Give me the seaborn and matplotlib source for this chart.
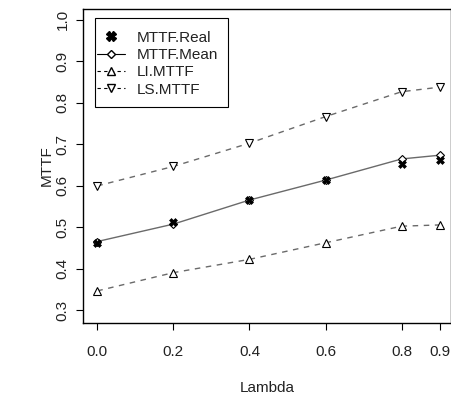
import matplotlib
matplotlib.use("Agg")
import matplotlib.pyplot as plt
import seaborn as sns
import pandas as pd
from matplotlib.lines import Line2D
from matplotlib.patches import Rectangle

lam = [0.0, 0.2, 0.4, 0.6, 0.8, 0.9]
mttf_real = [0.462, 0.513, 0.564, 0.613, 0.652, 0.661]
mttf_mean = [0.465, 0.507, 0.565, 0.613, 0.664, 0.673]
li_mttf = [0.346, 0.390, 0.422, 0.462, 0.502, 0.505]
ls_mttf = [0.599, 0.646, 0.702, 0.766, 0.826, 0.837]
x_ticks = [0.0, 0.2, 0.4, 0.6, 0.8, 0.9]
y_ticks = [0.3, 0.4, 0.5, 0.6, 0.7, 0.8, 0.9, 1.0]

df = pd.DataFrame({"Lambda": lam, "Real": mttf_real, "Mean": mttf_mean,
                   "LI": li_mttf, "LS": ls_mttf})

sns.set_style("ticks")
plt.rcParams['font.family'] = ['Liberation Sans', 'DejaVu Sans']

fig = plt.figure(figsize=(4.52, 3.96), dpi=100)
ax = fig.add_axes([83.3/452, (396-322.7)/396, (451.5-83.3)/452, (322.7-9.3)/396])

gray = "#6a6a6a"
fs = 11
sns.lineplot(data=df, x="Lambda", y="LS", ax=ax, color=gray, lw=1, linestyle=(0, (4, 4)), zorder=2)
sns.lineplot(data=df, x="Lambda", y="LI", ax=ax, color=gray, lw=1, linestyle=(0, (4, 4)), zorder=2)
sns.lineplot(data=df, x="Lambda", y="Mean", ax=ax, color=gray, lw=1, zorder=2)
ax.plot(df["Lambda"], df["LS"], ls="none", marker="v", ms=6, mfc="white", mec="black", mew=0.8, zorder=3)
ax.plot(df["Lambda"], df["LI"], ls="none", marker="^", ms=6, mfc="white", mec="black", mew=0.8, zorder=3)
ax.plot(df["Lambda"], df["Mean"], ls="none", marker="D", ms=4.5, mfc="white", mec="black", mew=0.8, zorder=3)
sns.scatterplot(data=df, x="Lambda", y="Real", ax=ax, marker="X", s=32, color="black",
                edgecolor="black", linewidth=0.5, zorder=4)

ax.set_xlim(-0.0368, 0.9311)
ax.set_ylim(0.2694, 1.0246)
ax.set_xticks(x_ticks)
ax.set_xticklabels([f"{v:.1f}" for v in x_ticks])
ax.set_yticks(y_ticks)
ax.set_yticklabels([f"{v:.1f}" for v in y_ticks], rotation=90, va="center")
for s in ax.spines.values():
    s.set_visible(True)
    s.set_linewidth(1)
    s.set_color("black")
ax.tick_params(axis="both", length=5, width=0.8, colors="black", labelsize=fs, labelcolor="#222222")
ax.tick_params(axis="x", pad=11)
ax.tick_params(axis="y", pad=5)

ax.set_xlabel("Lambda", fontsize=fs, color="#222222")
ax.set_ylabel("MTTF", fontsize=fs, color="#222222")
ax.xaxis.set_label_coords(0.5, -0.2084)
ax.xaxis.label.set_va("center")
ax.yaxis.set_label_coords(-0.098, 0.5)
ax.yaxis.label.set_va("center")

# legend frame (drawn separately to match the reference's padding)
x0 = (95 - 83.3) / 368.7
x1 = (228.3 - 83.3) / 368.7
y1 = (322.7 - 18.3) / 313.4
y0 = (322.7 - 107.3) / 313.4
ax.add_patch(Rectangle((x0, y0), x1 - x0, y1 - y0, transform=ax.transAxes,
                       facecolor="white", edgecolor="black", lw=0.8, zorder=5))

handles = [
    Line2D([], [], ls="none", marker="X", ms=6.5, color="black"),
    Line2D([], [], color="black", lw=0.8, marker="D", ms=4.5, mfc="white", mec="black"),
    Line2D([], [], color="black", lw=0.8, ls=(0, (3, 3)), marker="^", ms=6, mfc="white", mec="black"),
    Line2D([], [], color="black", lw=0.8, ls=(0, (3, 3)), marker="v", ms=6, mfc="white", mec="black"),
]
labels = ["MTTF.Real", "MTTF.Mean", "LI.MTTF", "LS.MTTF"]
leg = ax.legend(handles, labels, loc="upper left",
                bbox_to_anchor=((97 - 83.3) / 368.7, (322.7 - 30.5) / 313.4),
                fontsize=fs, frameon=False,
                handlelength=1.83, handletextpad=0.77, labelspacing=0.22,
                borderpad=0, borderaxespad=0)
leg.set_zorder(6)
for t in leg.get_texts():
    t.set_color("#222222")

fig.savefig("out.png", dpi=100)
